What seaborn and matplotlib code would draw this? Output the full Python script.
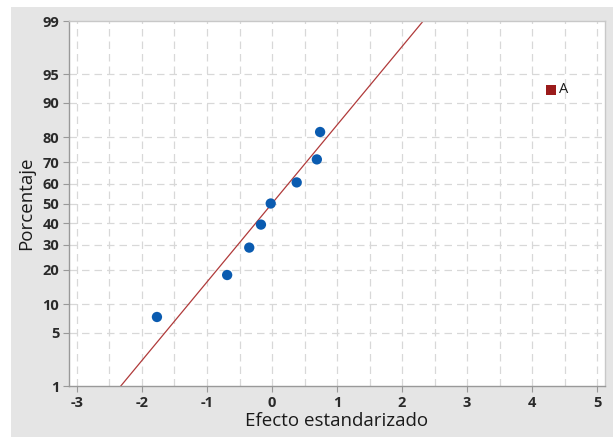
import numpy as np
import pandas as pd
import seaborn as sns
import matplotlib.pyplot as plt
from matplotlib.patches import Rectangle
from statistics import NormalDist

# effects (standardized effect, percentage)
efectos = [-1.77, -0.69, -0.35, -0.17, -0.02, 0.38, 0.69, 0.74]
porcentajes = [7.4, 18.1, 28.7, 39.4, 50.0, 60.6, 71.3, 81.9]
efecto_sig = [4.29]
porcentaje_sig = [92.6]
etiqueta_sig = ["A"]

# fitted reference line (mean, sigma)
linea_media = 0.0
linea_sigma = 1.0

y_ticks = [1, 5, 10, 20, 30, 40, 50, 60, 70, 80, 90, 95, 99]
x_ticks = [-3, -2, -1, 0, 1, 2, 3, 4, 5]

nd = NormalDist()
z = lambda p: nd.inv_cdf(p / 100.0)

df = pd.DataFrame({"efecto": efectos, "z": [z(p) for p in porcentajes]})
df_sig = pd.DataFrame({"efecto": efecto_sig, "z": [z(p) for p in porcentaje_sig]})

sns.set_style("white")
plt.rcParams["font.family"] = ["Open Sans", "DejaVu Sans"]

fig = plt.figure(figsize=(6.13, 4.37), dpi=100)
fig.patch.set_facecolor("#e5e5e5")
# white strips at top and left of the window
fig.patches.append(Rectangle((0, 1 - 7 / 437), 1, 7 / 437, transform=fig.transFigure,
                             facecolor="white", edgecolor="none", zorder=-1))
fig.patches.append(Rectangle((0, 0), 11 / 613, 1, transform=fig.transFigure,
                             facecolor="white", edgecolor="none", zorder=-1))

ax = fig.add_axes([69 / 613, 1 - 386 / 437, 536 / 613, 365 / 437])
ax.set_facecolor("white")
ax.set_zorder(2)

zlo, zhi = z(1), z(99)

# grid
for xv in np.arange(-3, 5.01, 0.5):
    ax.axvline(xv, color="#d8d8d8", lw=0.9, ls=(0, (6, 4)), zorder=1)
for yv in y_ticks[1:-1]:
    ax.axhline(z(yv), color="#d8d8d8", lw=0.9, ls=(0, (6, 4)), zorder=1)

# reference line
zz = np.array([zlo - 0.2, zhi + 0.2])
sns.lineplot(x=linea_media + linea_sigma * zz, y=zz, ax=ax, color="#b03a3a",
             lw=0.9, zorder=2)

sns.scatterplot(data=df, x="efecto", y="z", ax=ax, color="#0a5bb0", s=55,
                edgecolor="none", zorder=3)
sns.scatterplot(data=df_sig, x="efecto", y="z", ax=ax, color="#9b1b1b", marker="s",
                s=48, edgecolor="none", zorder=3)
for xv, p, lab in zip(efecto_sig, porcentaje_sig, etiqueta_sig):
    ax.text(xv + 0.12, z(p) + 0.01, lab, fontsize=10.5, color="#1a1a1a",
            va="center", ha="left")

ax.set_xlim(-3 - 8 / 65, 5 + 8 / 65)
ax.set_ylim(zlo, zhi)
tick_font = dict(family=["Open Sans", "DejaVu Sans"], weight="bold", size=10.5)
ax.set_xticks(x_ticks)
ax.set_xticklabels([str(t) for t in x_ticks], **tick_font)
ax.set_yticks([z(t) for t in y_ticks])
ax.set_yticklabels([str(t) for t in y_ticks], **tick_font)
ax.tick_params(axis="both", length=4, width=0.8, color="#999999",
               labelcolor="#2a2a2a", pad=3, bottom=True, left=True)

for side in ["left", "bottom"]:
    ax.spines[side].set_color("#999999")
    ax.spines[side].set_linewidth(1.0)
for side in ["right", "top"]:
    ax.spines[side].set_color("#c8c8c8")
    ax.spines[side].set_linewidth(1.0)

ax.set_xlabel("Efecto estandarizado", fontsize=13.5, color="#1a1a1a", labelpad=2)
ax.set_ylabel("Porcentaje", fontsize=13.5, color="#1a1a1a", labelpad=5)

fig.savefig("out.png", dpi=100)
